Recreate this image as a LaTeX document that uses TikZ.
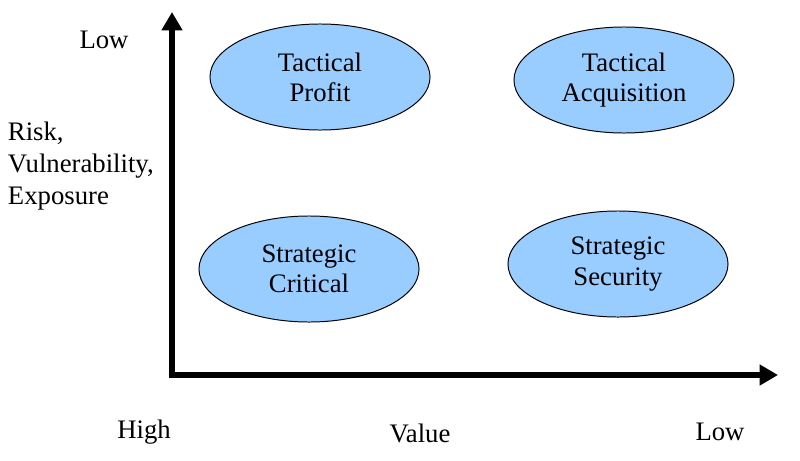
\documentclass[tikz,border=0pt]{standalone}
\usepackage{fontspec}
\setmainfont{Liberation Serif}
\usetikzlibrary{arrows.meta, shapes.geometric}
\definecolor{cellblue}{RGB}{153,204,255}

\begin{document}
\begin{tikzpicture}[x=0.025cm, y=-0.025cm,
  cell/.style={draw, ellipse, fill=cellblue, line width=0.7pt, minimum width=5.5cm, minimum height=2.65cm, inner sep=0pt, align=center, font=\fontsize{19}{21.5}\selectfont},
  lbl/.style={font=\fontsize{19}{23}\selectfont},
  axis/.style={line width=3.8pt, line join=miter, {Triangle[width=0.5cm, length=0.46cm]}-{Triangle[width=0.5cm, length=0.46cm]}}]
  \useasboundingbox (0,0) rectangle (800,460);
  \coordinate (origin) at (172,375);
  \coordinate (ytip) at (172,12);
  \coordinate (xtip) at (778,375);
  \draw[axis] (ytip) -- (origin) -- (xtip);
  \node[cell] (profit) at (320,77) {Tactical\\Profit};
  \node[cell] (acq) at (624,80) {Tactical\\Acquisition};
  \node[cell] (critical) at (309,269) {Strategic\\Critical};
  \node[cell] (security) at (618,264) {Strategic\\Security};
  \node[lbl] (risklow) at (104,40) {Low};
  \node[lbl, anchor=west, align=left] (risk) at (3,166) {Risk,\\Vulnerability,\\Exposure};
  \node[lbl] (high) at (144,432) {High};
  \node[lbl] (value) at (420,433) {Value};
  \node[lbl] (valuelow) at (720,432) {Low};
\end{tikzpicture}
\end{document}
